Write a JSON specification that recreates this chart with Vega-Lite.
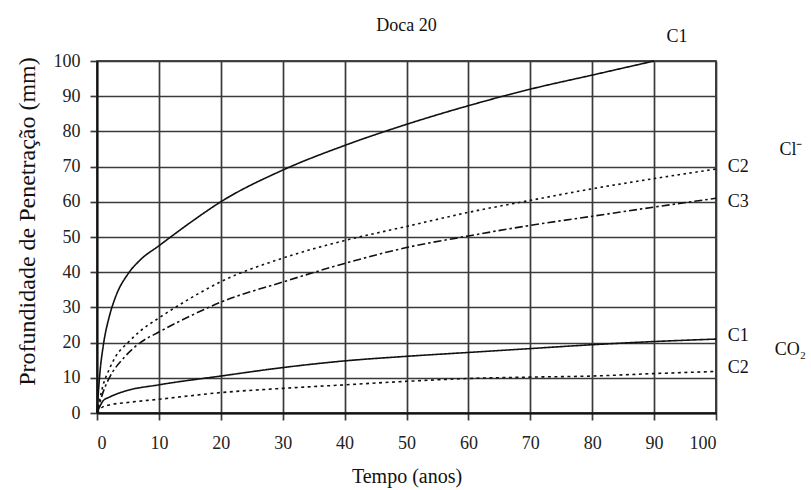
{
  "$schema": "https://vega.github.io/schema/vega-lite/v6.json",
  "width": 619,
  "height": 352,
  "autosize": "none",
  "padding": {"left": 97, "top": 61, "right": 95, "bottom": 77},
  "background": "white",
  "title": {
    "text": "Doca 20",
    "font": "Liberation Serif",
    "fontSize": 18,
    "fontWeight": "normal",
    "color": "#111",
    "anchor": "middle",
    "offset": 0,
    "dy": 7
  },
  "config": {
    "title": {"font": "Liberation Serif"},
    "view": {"stroke": "#111", "strokeWidth": 1.6},
    "axis": {
      "labelFont": "Liberation Serif",
      "labelFontSize": 18,
      "labelColor": "#222",
      "labelOverlap": false,
      "titleFont": "Liberation Serif",
      "titleFontWeight": "normal",
      "titleColor": "#111",
      "grid": true,
      "gridColor": "#3a3a3a",
      "gridWidth": 1.7,
      "gridOpacity": 1,
      "domainColor": "#111",
      "domainWidth": 1.8,
      "tickColor": "#3a3a3a",
      "tickWidth": 1.7,
      "tickSize": 7
    }
  },
  "datasets": {
    "curves": [
      {"serie": "Cl C1", "t": 0, "v": 0},
      {"serie": "Cl C1", "t": 0.5, "v": 12},
      {"serie": "Cl C1", "t": 1, "v": 19},
      {"serie": "Cl C1", "t": 2, "v": 27.5},
      {"serie": "Cl C1", "t": 3, "v": 33},
      {"serie": "Cl C1", "t": 5, "v": 39.5},
      {"serie": "Cl C1", "t": 7, "v": 43.5},
      {"serie": "Cl C1", "t": 10, "v": 47.5},
      {"serie": "Cl C1", "t": 15, "v": 54},
      {"serie": "Cl C1", "t": 20, "v": 60},
      {"serie": "Cl C1", "t": 30, "v": 69},
      {"serie": "Cl C1", "t": 40, "v": 76},
      {"serie": "Cl C1", "t": 50, "v": 82},
      {"serie": "Cl C1", "t": 60, "v": 87.3},
      {"serie": "Cl C1", "t": 70, "v": 92},
      {"serie": "Cl C1", "t": 80, "v": 96},
      {"serie": "Cl C1", "t": 90, "v": 100},

      {"serie": "Cl C2", "t": 0, "v": 0},
      {"serie": "Cl C2", "t": 1, "v": 8},
      {"serie": "Cl C2", "t": 2, "v": 12.5},
      {"serie": "Cl C2", "t": 3, "v": 16},
      {"serie": "Cl C2", "t": 5, "v": 20},
      {"serie": "Cl C2", "t": 7, "v": 23.3},
      {"serie": "Cl C2", "t": 10, "v": 27},
      {"serie": "Cl C2", "t": 15, "v": 32.5},
      {"serie": "Cl C2", "t": 20, "v": 37.3},
      {"serie": "Cl C2", "t": 30, "v": 44},
      {"serie": "Cl C2", "t": 40, "v": 49},
      {"serie": "Cl C2", "t": 50, "v": 53},
      {"serie": "Cl C2", "t": 60, "v": 57},
      {"serie": "Cl C2", "t": 70, "v": 60.4},
      {"serie": "Cl C2", "t": 80, "v": 63.7},
      {"serie": "Cl C2", "t": 90, "v": 66.6},
      {"serie": "Cl C2", "t": 100, "v": 69.3},

      {"serie": "Cl C3", "t": 0, "v": 0},
      {"serie": "Cl C3", "t": 1, "v": 6},
      {"serie": "Cl C3", "t": 2, "v": 10},
      {"serie": "Cl C3", "t": 4.5, "v": 16},
      {"serie": "Cl C3", "t": 7, "v": 20},
      {"serie": "Cl C3", "t": 10, "v": 23},
      {"serie": "Cl C3", "t": 15, "v": 27.5},
      {"serie": "Cl C3", "t": 20, "v": 31.5},
      {"serie": "Cl C3", "t": 30, "v": 37.2},
      {"serie": "Cl C3", "t": 40, "v": 42.5},
      {"serie": "Cl C3", "t": 50, "v": 47},
      {"serie": "Cl C3", "t": 60, "v": 50.3},
      {"serie": "Cl C3", "t": 70, "v": 53.3},
      {"serie": "Cl C3", "t": 80, "v": 55.9},
      {"serie": "Cl C3", "t": 90, "v": 58.5},
      {"serie": "Cl C3", "t": 100, "v": 61},

      {"serie": "CO2 C1", "t": 0, "v": 0},
      {"serie": "CO2 C1", "t": 0.5, "v": 2},
      {"serie": "CO2 C1", "t": 1, "v": 3.5},
      {"serie": "CO2 C1", "t": 2, "v": 4.5},
      {"serie": "CO2 C1", "t": 4.5, "v": 6.2},
      {"serie": "CO2 C1", "t": 10, "v": 8},
      {"serie": "CO2 C1", "t": 20, "v": 10.5},
      {"serie": "CO2 C1", "t": 30, "v": 12.9},
      {"serie": "CO2 C1", "t": 40, "v": 14.8},
      {"serie": "CO2 C1", "t": 50, "v": 16.1},
      {"serie": "CO2 C1", "t": 60, "v": 17.2},
      {"serie": "CO2 C1", "t": 70, "v": 18.3},
      {"serie": "CO2 C1", "t": 80, "v": 19.4},
      {"serie": "CO2 C1", "t": 90, "v": 20.3},
      {"serie": "CO2 C1", "t": 100, "v": 21},

      {"serie": "CO2 C2", "t": 0, "v": 0},
      {"serie": "CO2 C2", "t": 1, "v": 1.8},
      {"serie": "CO2 C2", "t": 2, "v": 2.3},
      {"serie": "CO2 C2", "t": 5, "v": 3},
      {"serie": "CO2 C2", "t": 10, "v": 3.9},
      {"serie": "CO2 C2", "t": 20, "v": 5.8},
      {"serie": "CO2 C2", "t": 30, "v": 7},
      {"serie": "CO2 C2", "t": 40, "v": 8},
      {"serie": "CO2 C2", "t": 50, "v": 9},
      {"serie": "CO2 C2", "t": 60, "v": 9.8},
      {"serie": "CO2 C2", "t": 70, "v": 10.2},
      {"serie": "CO2 C2", "t": 80, "v": 10.5},
      {"serie": "CO2 C2", "t": 90, "v": 11.2},
      {"serie": "CO2 C2", "t": 100, "v": 11.8}
    ],
    "labels": [
      {"t": 93.7, "v": 106.8, "txt": "C1"},
      {"t": 103.6, "v": 69.9, "txt": "C2"},
      {"t": 103.6, "v": 60, "txt": "C3"},
      {"t": 112.1, "v": 74.7, "txt": "Cl⁻"},
      {"t": 103.6, "v": 22, "txt": "C1"},
      {"t": 103.6, "v": 12.8, "txt": "C2"},
      {"t": 112, "v": 17.9, "txt": "CO₂"}
    ]
  },
  "encoding": {
    "x": {
      "field": "t",
      "type": "quantitative",
      "scale": {"domain": [0, 100], "nice": false},
      "axis": {
        "values": [0, 10, 20, 30, 40, 50, 60, 70, 80, 90, 100],
        "title": "Tempo (anos)",
        "titleFontSize": 20,
        "labelPadding": 14,
        "titleY": 63,
        "titleBaseline": "middle"
      }
    },
    "y": {
      "field": "v",
      "type": "quantitative",
      "scale": {"domain": [0, 100], "nice": false},
      "axis": {
        "values": [0, 10, 20, 30, 40, 50, 60, 70, 80, 90, 100],
        "title": "Profundidade de Penetração (mm)",
        "titleFontSize": 24,
        "labelPadding": 10,
        "titleX": -70,
        "titleY": 160,
        "titleAngle": -90,
        "titleAlign": "center",
        "titleBaseline": "middle"
      }
    }
  },
  "layer": [
    {
      "data": {"name": "curves"},
      "mark": {"type": "line", "color": "#111", "strokeWidth": 1.6, "interpolate": "monotone"},
      "encoding": {
        "detail": {"field": "serie"},
        "strokeDash": {
          "field": "serie",
          "type": "nominal",
          "scale": {
            "domain": ["Cl C1", "Cl C2", "Cl C3", "CO2 C1", "CO2 C2"],
            "range": [[1, 0], [2.5, 3.5], [8, 3, 2.5, 3], [1, 0], [3, 3.5]]
          },
          "legend": null
        }
      }
    },
    {
      "data": {"name": "labels"},
      "mark": {
        "type": "text",
        "font": "Liberation Serif",
        "fontSize": 18,
        "color": "#111",
        "align": "center",
        "baseline": "middle",
        "clip": false
      },
      "encoding": {
        "text": {"field": "txt"}
      }
    }
  ]
}
